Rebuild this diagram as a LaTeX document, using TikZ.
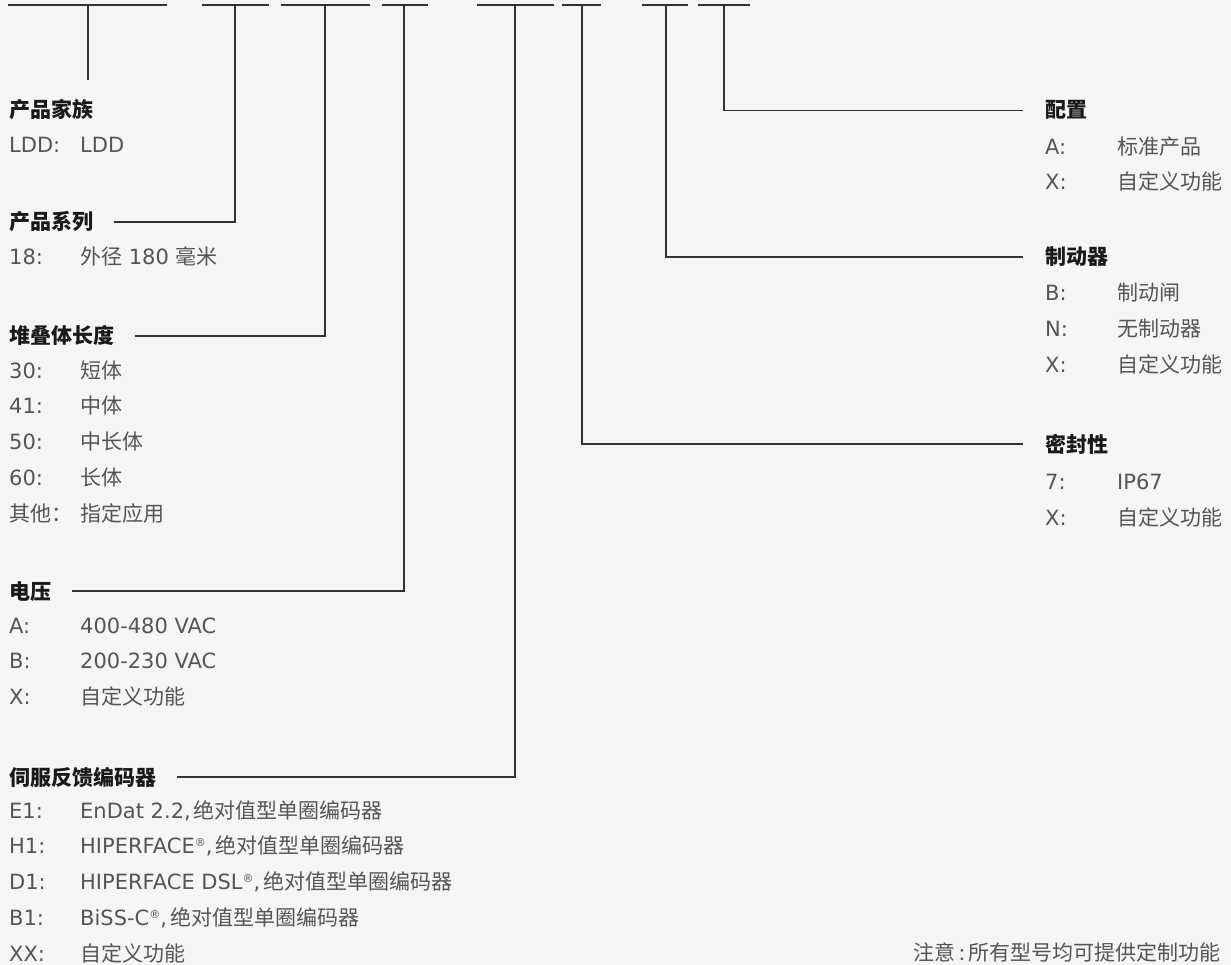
\documentclass[tikz,border=0pt]{standalone}
\usepackage{fontspec}
\setmainfont{DejaVu Sans}
\newfontfamily\cjk{Noto Sans CJK SC}
\definecolor{bg}{HTML}{F5F5F5}
\definecolor{ink}{HTML}{1A1A1A}
\definecolor{txt}{HTML}{555555}
\definecolor{rulec}{HTML}{333333}
\newcommand\zh[1]{{\cjk #1}}
\newcommand\reg{\raisebox{7pt}{\fontsize{11}{11}\selectfont ®}}
\tikzset{
  head/.style={anchor=base west, inner sep=0pt, text=ink, font=\fontsize{21}{25}\selectfont\cjk\bfseries},
  item/.style={anchor=base west, inner sep=0pt, text=txt, font=\fontsize{21}{25}\selectfont},
  note/.style={anchor=base east, inner sep=0pt, text=txt, font=\fontsize{21}{25}\selectfont\cjk},
  conn/.style={draw=rulec, line width=1.4pt},
}
\begin{document}
\begin{tikzpicture}[x=1pt,y=-1pt]
\fill[bg] (0,0) rectangle (1231,965);
\useasboundingbox (0,0) rectangle (1231,965);

% top code segments
\foreach \i/\a/\m/\b in {1/8/88/167, 2/202/235/269, 3/281/325/370, 4/382/404/428,
                         5/477/515/554, 6/562/582/601, 7/642/666/688, 8/698/724/750}{
  \coordinate (a\i) at (\a,5);
  \coordinate (m\i) at (\m,5);
  \coordinate (b\i) at (\b,5);
  \draw[conn] (a\i) -- (b\i);
}
\coordinate (e1) at (88,80);

% left column
\node[head] (h1) at (9,118) {产品家族};
\node[item] (h1a) at (9,153) {LDD:};
\node[item] (h1av) at (80,153) {LDD};

\node[head] (h2) at (9,230) {产品系列};
\node[item] (h2a) at (9,265) {18:};
\node[item] (h2av) at (80,265) {\zh{外径}\ 180\ \zh{毫米}};

\node[head] (h3) at (9,344) {堆叠体长度};
\node[item] (h3a) at (9,378) {30:};
\node[item] (h3av) at (80,378) {\zh{短体}};
\node[item] (h3b) at (9,413.75) {41:};
\node[item] (h3bv) at (80,413.75) {\zh{中体}};
\node[item] (h3c) at (9,449.5) {50:};
\node[item] (h3cv) at (80,449.5) {\zh{中长体}};
\node[item] (h3d) at (9,485.25) {60:};
\node[item] (h3dv) at (80,485.25) {\zh{长体}};
\node[item] (h3e) at (9,521) {\zh{其他：}};
\node[item] (h3ev) at (80,521) {\zh{指定应用}};

\node[head] (h4) at (9,599) {电压};
\node[item] (h4a) at (9,633) {A:};
\node[item] (h4av) at (80,633) {400-480 VAC};
\node[item] (h4b) at (9,668.5) {B:};
\node[item] (h4bv) at (80,668.5) {200-230 VAC};
\node[item] (h4c) at (9,704) {X:};
\node[item] (h4cv) at (80,704) {\zh{自定义功能}};

\node[head] (h5) at (9,785) {伺服反馈编码器};
\node[item] (h5a) at (9,818) {E1:};
\node[item] (h5av) at (80,818) {EnDat 2.2,\hspace{3pt}\zh{绝对值型单圈编码器}};
\node[item] (h5b) at (9,853.75) {H1:};
\node[item] (h5bv) at (80,853.75) {HIPERFACE\reg,\hspace{3pt}\zh{绝对值型单圈编码器}};
\node[item] (h5c) at (9,889.5) {D1:};
\node[item] (h5cv) at (80,889.5) {HIPERFACE DSL\reg,\hspace{3pt}\zh{绝对值型单圈编码器}};
\node[item] (h5d) at (9,925.25) {B1:};
\node[item] (h5dv) at (80,925.25) {BiSS-C\reg,\hspace{3pt}\zh{绝对值型单圈编码器}};
\node[item] (h5e) at (9,961) {XX:};
\node[item] (h5ev) at (80,961) {\zh{自定义功能}};

% right column
\node[head] (r1) at (1045,118) {配置};
\node[item] (r1a) at (1045,155) {A:};
\node[item] (r1av) at (1117,155) {\zh{标准产品}};
\node[item] (r1b) at (1045,190) {X:};
\node[item] (r1bv) at (1117,190) {\zh{自定义功能}};

\node[head] (r2) at (1045,265) {制动器};
\node[item] (r2a) at (1045,301) {B:};
\node[item] (r2av) at (1117,301) {\zh{制动闸}};
\node[item] (r2b) at (1045,336.5) {N:};
\node[item] (r2bv) at (1117,336.5) {\zh{无制动器}};
\node[item] (r2c) at (1045,372) {X:};
\node[item] (r2cv) at (1117,372) {\zh{自定义功能}};

\node[head] (r3) at (1045,452) {密封性};
\node[item] (r3a) at (1045,489) {7:};
\node[item] (r3av) at (1117,489) {IP67};
\node[item] (r3b) at (1045,525) {X:};
\node[item] (r3bv) at (1117,525) {\zh{自定义功能}};

\node[note] (nt) at (1221,960) {注意\,:\,所有型号均可提供定制功能};

% connectors
\draw[conn] (m1) -- (e1);
\draw[conn] (m2) |- ([xshift=21pt]h2.east);
\draw[conn] (m3) |- ([xshift=21pt]h3.east);
\draw[conn] (m4) |- ([xshift=21pt]h4.east);
\draw[conn] (m5) |- ([xshift=21pt]h5.east);
\draw[conn] (m6) |- ([xshift=-22pt]r3.west);
\draw[conn] (m7) |- ([xshift=-22pt]r2.west);
\draw[conn] (m8) |- ([xshift=-22pt]r1.west);
\end{tikzpicture}
\end{document}
